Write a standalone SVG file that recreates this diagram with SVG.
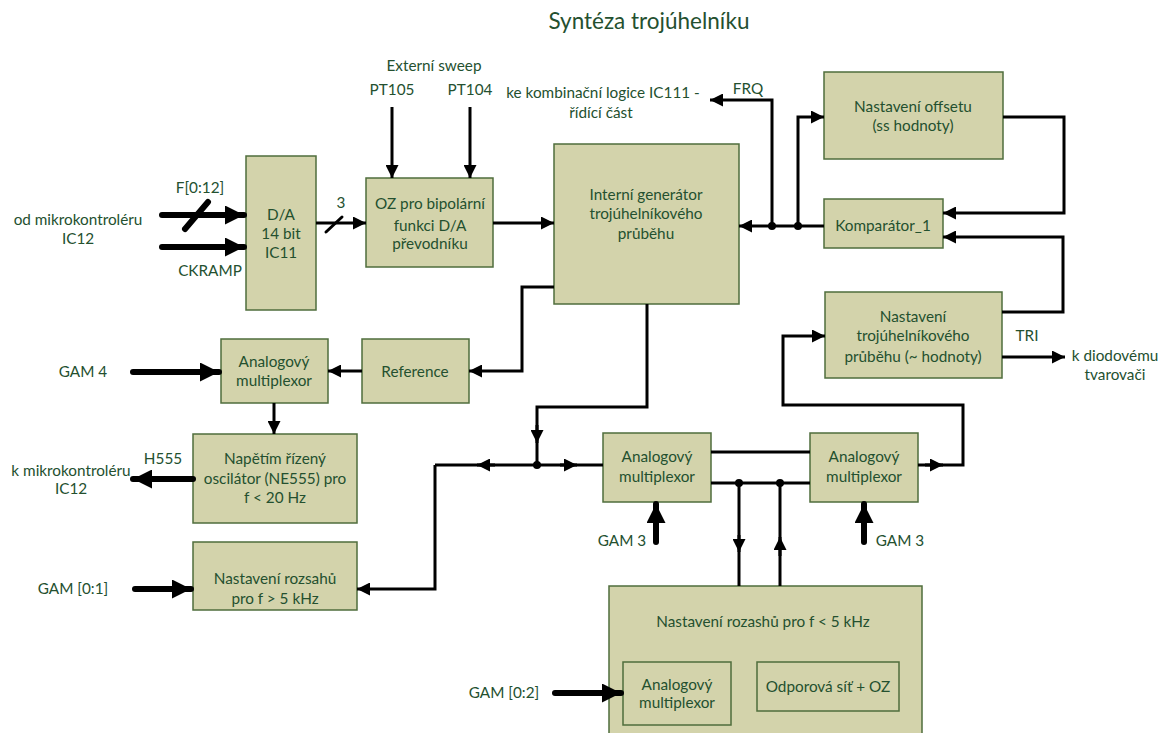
<svg xmlns="http://www.w3.org/2000/svg" width="1170" height="733" viewBox="0 0 1170 733">
  <style>
    text { font-family: Lato, "Open Sans", "Liberation Sans", sans-serif; font-size: 15.3px; fill: #24502f; text-anchor: middle; }
    .title { font-size: 22.5px; }
    .box { fill: #d3d3ab; stroke: #4f6d3c; stroke-width: 1.5; }
    .ln { fill: none; stroke: #000; stroke-width: 3; stroke-linejoin: miter; }
    .bus { fill: none; stroke: #000; stroke-width: 6; stroke-linecap: round; }
    .dot { fill: #000; }
  </style>
  <defs>
    <marker id="ah" markerUnits="userSpaceOnUse" markerWidth="13" markerHeight="13" refX="13" refY="6.5" orient="auto">
      <path d="M0,0 L13,6.5 L0,13 z" fill="#000"/>
    </marker>
    <marker id="ahBig" markerUnits="userSpaceOnUse" markerWidth="19" markerHeight="19" refX="19" refY="9.5" orient="auto">
      <path d="M0,0 L19,9.5 L0,19 z" fill="#000"/>
    </marker>
  </defs>

  <rect width="1170" height="733" fill="#fff"/>

  <text class="title" x="649" y="29">Syntéza trojúhelníku</text>

  <!-- free-standing labels -->
  <g id="labels">
    <text x="78" y="225">od mikrokontroléru</text>
    <text x="78" y="244">IC12</text>
    <text x="200" y="193">F[0:12]</text>
    <text x="210" y="276">CKRAMP</text>
    <text x="341" y="208">3</text>
    <text x="434" y="71">Externí sweep</text>
    <text x="392" y="95">PT105</text>
    <text x="470" y="95">PT104</text>
    <text x="603" y="98">ke kombinační logice IC111 -</text>
    <text x="601" y="118">řídící část</text>
    <text x="748" y="94">FRQ</text>
    <text x="1027" y="341">TRI</text>
    <text x="1115" y="361">k diodovému</text>
    <text x="1115" y="380">tvarovači</text>
    <text x="83" y="377">GAM 4</text>
    <text x="163" y="464">H555</text>
    <text x="71" y="476">k mikrokontroléru</text>
    <text x="71" y="494">IC12</text>
    <text x="73" y="594">GAM [0:1]</text>
    <text x="622" y="546">GAM 3</text>
    <text x="900" y="546">GAM 3</text>
    <text x="504" y="698">GAM [0:2]</text>
  </g>

  <!-- blocks -->
  <g id="dac">
    <rect class="box" x="246" y="156" width="70" height="154"/>
    <text x="281" y="220">D/A</text>
    <text x="281" y="239">14 bit</text>
    <text x="281" y="258">IC11</text>
  </g>
  <g id="oz-bipolar">
    <rect class="box" x="366" y="178" width="127" height="89"/>
    <text x="430" y="209">OZ pro bipolární</text>
    <text x="430" y="231">funkci D/A</text>
    <text x="430" y="249">převodníku</text>
  </g>
  <g id="generator">
    <rect class="box" x="554" y="144" width="185" height="160"/>
    <text x="646" y="200">Interní generátor</text>
    <text x="646" y="219">trojúhelníkového</text>
    <text x="646" y="239">průběhu</text>
  </g>
  <g id="offset">
    <rect class="box" x="824" y="72" width="179" height="87"/>
    <text x="913" y="112">Nastavení offsetu</text>
    <text x="913" y="131">(ss hodnoty)</text>
  </g>
  <g id="comparator">
    <rect class="box" x="824" y="199" width="119" height="49"/>
    <text x="883" y="231">Komparátor_1</text>
  </g>
  <g id="triangle-setting">
    <rect class="box" x="825" y="292" width="177" height="86"/>
    <text x="913" y="322">Nastavení</text>
    <text x="913" y="341">trojúhelníkového</text>
    <text x="913" y="362">průběhu (~ hodnoty)</text>
  </g>
  <g id="mux-gam4">
    <rect class="box" x="221" y="339" width="107" height="64"/>
    <text x="274" y="367">Analogový</text>
    <text x="274" y="386">multiplexor</text>
  </g>
  <g id="reference">
    <rect class="box" x="362" y="339" width="107" height="64"/>
    <text x="415" y="377">Reference</text>
  </g>
  <g id="vco">
    <rect class="box" x="193" y="434" width="164" height="89"/>
    <text x="275" y="464">Napětím řízený</text>
    <text x="275" y="484">oscilátor (NE555) pro</text>
    <text x="275" y="503">f &lt; 20 Hz</text>
  </g>
  <g id="range-high">
    <rect class="box" x="193" y="542" width="164" height="68"/>
    <text x="275" y="584">Nastavení rozsahů</text>
    <text x="275" y="604">pro f &gt; 5 kHz</text>
  </g>
  <g id="mux-1">
    <rect class="box" x="603" y="433" width="108" height="69"/>
    <text x="657" y="462">Analogový</text>
    <text x="657" y="482">multiplexor</text>
  </g>
  <g id="mux-2">
    <rect class="box" x="810" y="433" width="108" height="69"/>
    <text x="864" y="462">Analogový</text>
    <text x="864" y="482">multiplexor</text>
  </g>
  <g id="range-low">
    <rect class="box" x="609" y="586" width="313" height="160"/>
    <text x="763" y="627">Nastavení rozashů pro f &lt; 5 kHz</text>
    <g id="range-low-mux">
      <rect class="box" x="623" y="662" width="108" height="63"/>
      <text x="677" y="690">Analogový</text>
      <text x="677" y="708">multiplexor</text>
    </g>
    <g id="range-low-net">
      <rect class="box" x="757" y="662" width="142" height="49"/>
      <text x="828" y="692">Odporová síť + OZ</text>
    </g>
  </g>

  <!-- connectors -->
  <g id="connectors">
    <!-- digital inputs of the DAC -->
    <path class="bus" d="M162,215 H244" marker-end="url(#ahBig)"/>
    <path class="bus" d="M185,229 L208,202" stroke-width="5"/>
    <path class="bus" d="M162,247 H244" marker-end="url(#ahBig)"/>
    <path class="ln" d="M316,223 H366" marker-end="url(#ah)"/>
    <path class="ln" d="M326,232 L342,217" stroke-linecap="round"/>
    <!-- external sweep -->
    <path class="ln" d="M392,107 V178" marker-end="url(#ah)"/>
    <path class="ln" d="M470,107 V178" marker-end="url(#ah)"/>
    <!-- OZ to generator -->
    <path class="ln" d="M493,223 H554" marker-end="url(#ah)"/>
    <!-- comparator feedback to generator, FRQ and offset taps -->
    <path class="ln" d="M824,226 H739" marker-end="url(#ah)"/>
    <circle class="dot" cx="772" cy="226" r="4"/>
    <circle class="dot" cx="798" cy="226" r="4"/>
    <path class="ln" d="M772,226 V100 H710" marker-end="url(#ah)"/>
    <path class="ln" d="M798,226 V117 H824" marker-end="url(#ah)"/>
    <path class="ln" d="M1003,117 H1064 V213 H943" marker-end="url(#ah)"/>
    <path class="ln" d="M1002,312 H1063 V237 H943" marker-end="url(#ah)"/>
    <!-- TRI output -->
    <path class="ln" d="M1002,357 H1065" marker-end="url(#ah)"/>
    <!-- mux 2 output back to triangle setting -->
    <path class="ln" d="M918,465 H963 V405 H783 V336 H825" marker-end="url(#ah)"/>
    <path class="ln" d="M925,465 H943" marker-end="url(#ah)"/>
    <!-- generator to reference -->
    <path class="ln" d="M554,287 H522 V371 H469" marker-end="url(#ah)"/>
    <path class="ln" d="M362,371 H328" marker-end="url(#ah)"/>
    <path class="bus" d="M133,372 H219" marker-end="url(#ahBig)"/>
    <path class="ln" d="M274,403 V434" marker-end="url(#ah)"/>
    <path class="bus" d="M193,479 H133" marker-end="url(#ahBig)"/>
    <!-- generator output distribution -->
    <path class="ln" d="M647,304 V407 H537 V465"/>
    <path class="ln" d="M537,425 V443" marker-end="url(#ah)"/>
    <path class="ln" d="M435,465 H603"/>
    <path class="ln" d="M495,465 H477" marker-end="url(#ah)"/>
    <path class="ln" d="M560,465 H577" marker-end="url(#ah)"/>
    <circle class="dot" cx="537" cy="465" r="4"/>
    <path class="ln" d="M435,465 V589 H357" marker-end="url(#ah)"/>
    <path class="bus" d="M135,589 H191" marker-end="url(#ahBig)"/>
    <!-- links between the multiplexers and the low range block -->
    <path class="ln" d="M711,452 H810"/>
    <path class="ln" d="M711,483 H810"/>
    <circle class="dot" cx="739" cy="483" r="4"/>
    <circle class="dot" cx="780" cy="483" r="4"/>
    <path class="ln" d="M739,483 V586"/>
    <path class="ln" d="M739,535 V552" marker-end="url(#ah)"/>
    <path class="ln" d="M780,586 V483"/>
    <path class="ln" d="M780,556 V537" marker-end="url(#ah)"/>
    <path class="bus" d="M656,542 V504" marker-end="url(#ahBig)"/>
    <path class="bus" d="M864,542 V504" marker-end="url(#ahBig)"/>
    <path class="bus" d="M555,693 H621" marker-end="url(#ahBig)"/>
  </g>
</svg>
